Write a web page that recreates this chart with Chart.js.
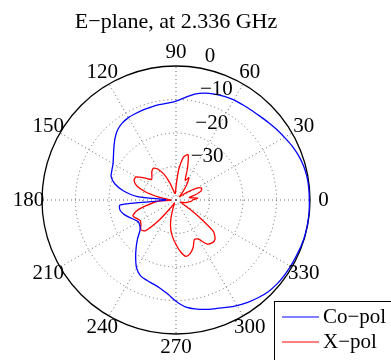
<!DOCTYPE html>
<html>
<head>
<meta charset="utf-8">
<script src="https://cdn.jsdelivr.net/npm/chart.js@4.4.1/dist/chart.umd.min.js"></script>
<style>
  html, body { margin: 0; padding: 0; background: #fff; }
  #chart { display: block; }
</style>
</head>
<body>
<canvas id="chart" width="391" height="360"></canvas>
<script>
const titleText = 'E\u2212plane, at 2.336 GHz';

// angle in degrees, counter-clockwise from the right
const angles = [0, 5, 10, 15, 20, 25, 30, 35, 40, 45, 50, 55, 60, 65, 70, 75, 80, 85,
  90, 95, 100, 105, 110, 115, 120, 125, 130, 135, 140, 145, 150, 155, 160, 165, 170, 175,
  180, 185, 190, 195, 200, 205, 210, 215, 220, 225, 230, 235, 240, 245, 250, 255, 260, 265,
  270, 275, 280, 285, 290, 295, 300, 305, 310, 315, 320, 325, 330, 335, 340, 345, 350, 355];

// normalised gain, dB
const coPol = [-0.2, -0.2, -0.3, -0.6, -1.1, -1.8, -2.6, -3.3, -4.0, -4.6, -5.0, -5.3, -5.5, -5.9, -6.4, -7.0, -7.9, -9.3,
  -10.5, -11.0, -11.1, -11.3, -11.4, -11.5, -11.6, -12.0, -12.8, -14.2, -15.8, -17.2, -18.3, -18.9, -19.4, -21.0, -24.0, -28.5,
  -37.0, -23.3, -23.0, -23.8, -25.0, -26.2, -27.0, -26.8, -26.0, -23.8, -21.5, -19.0, -16.5, -15.0, -14.5, -14.0, -13.2, -11.8,
  -9.8, -8.0, -7.0, -6.2, -5.5, -4.6, -3.6, -2.7, -1.9, -1.2, -0.8, -0.6, -0.5, -0.4, -0.2, -0.1, -0.1, -0.1];

const xPol = [-35, -33.5, -36, -34, -32, -31.6, -33, -36, -38, -38.5, -37, -34.5, -32.3, -33.5, -30, -26, -27, -31,
  -36, -38, -38, -37, -34.5, -31.5, -29.5, -28.4, -28.8, -29.8, -30.5, -28.5, -26.2, -26.2, -27.5, -30.5, -34.5, -37.5,
  -38.5, -34, -31.5, -28, -26.3, -27, -27.7, -27.2, -26.3, -27, -32, -37, -38.5, -39, -37.5, -34, -31, -28.8,
  -26.7, -24.5, -22.9, -23.5, -25, -27, -26.5, -24, -23.3, -23.5, -25.5, -33, -37.5, -38.5, -38, -37, -36.5, -35.5];

const seriesNames = ['Co\u2212pol', 'X\u2212pol'];
const ringTicks = [-30, -20, -10, 0];
const ringLabels = ['\u221230', '\u221220', '\u221210', '0'];
const angleTicks = [0, 30, 60, 90, 120, 150, 180, 210, 240, 270, 300, 330];

const serif = '"Liberation Serif", "Times New Roman", serif';
const n = angles.length;
const step = 360 / n;

// radar goes clockwise, so walk the angles backwards
const order = angles.map((a, i) => (n - i) % n);
const toRadar = arr => order.map(k => arr[k]);

const polarText = {
  id: 'polarText',
  afterDraw(chart) {
    const r = chart.scales.r;
    const ctx = chart.ctx;
    const cx = r.xCenter, cy = r.yCenter, R = r.drawingArea;
    ctx.save();
    ctx.fillStyle = '#000';
    ctx.font = '21px ' + serif;

    ctx.textAlign = 'center';
    ctx.textBaseline = 'middle';
    angleTicks.forEach(a => {
      const t = a * Math.PI / 180;
      ctx.fillText(String(a), cx + 1.1 * R * Math.cos(t), cy - 1.1 * R * Math.sin(t));
    });

    // ring labels sit at 82 deg like matlab's polar
    ctx.textAlign = 'left';
    ctx.textBaseline = 'bottom';
    const c82 = 82 * Math.PI / 180;
    ringTicks.forEach((v, i) => {
      const d = r.getDistanceFromCenterForValue(v);
      ctx.fillText(ringLabels[i], cx + d * Math.cos(c82) + 10, cy - d * Math.sin(c82));
    });

    // legend box, bottom right
    ctx.fillStyle = '#fff';
    ctx.fillRect(274.5, 301.5, 130, 62);
    ctx.strokeStyle = '#000';
    ctx.lineWidth = 1;
    ctx.strokeRect(274.5, 301.5, 130, 62);
    ctx.textBaseline = 'middle';
    chart.data.datasets.forEach((ds, i) => {
      const y = 317 + i * 25;
      ctx.strokeStyle = ds.borderColor;
      ctx.beginPath();
      ctx.moveTo(282, y);
      ctx.lineTo(319, y);
      ctx.stroke();
      ctx.fillStyle = '#000';
      ctx.fillText(ds.label, 323, y);
    });
    ctx.restore();
  }
};

new Chart(document.getElementById('chart'), {
  type: 'radar',
  data: {
    labels: toRadar(angles),
    datasets: [
      { label: seriesNames[0], data: toRadar(coPol), borderColor: '#0000ff', borderWidth: 1.3, fill: false, pointRadius: 0, tension: 0.3 },
      { label: seriesNames[1], data: toRadar(xPol), borderColor: '#ff0000', borderWidth: 1.3, fill: false, pointRadius: 0, tension: 0.25 }
    ]
  },
  options: {
    responsive: false,
    animation: false,
    devicePixelRatio: 1,
    layout: { padding: { left: 42, right: 81, top: 0, bottom: 25 } },
    plugins: {
      legend: { display: false },
      tooltip: { enabled: false },
      title: {
        display: true,
        text: titleText,
        color: '#000',
        font: { family: serif, size: 22, weight: 'normal' },
        padding: { top: 9, bottom: 31 }
      }
    },
    scales: {
      r: {
        min: -40,
        max: 0,
        startAngle: 90,
        ticks: { display: false, stepSize: 10 },
        pointLabels: { display: false },
        grid: {
          circular: true,
          color: c => c.index === 4 ? '#000' : '#666',
          lineWidth: c => c.index === 0 ? 0 : (c.index === 4 ? 1.3 : 1)
        },
        border: { dash: c => c.index === 4 ? [] : [1, 3] },
        angleLines: {
          color: '#666',
          lineWidth: c => Math.round(c.index * step) % 30 === 0 ? 1 : 0,
          borderDash: [1, 3]
        }
      }
    }
  },
  plugins: [polarText]
});
</script>
</body>
</html>
